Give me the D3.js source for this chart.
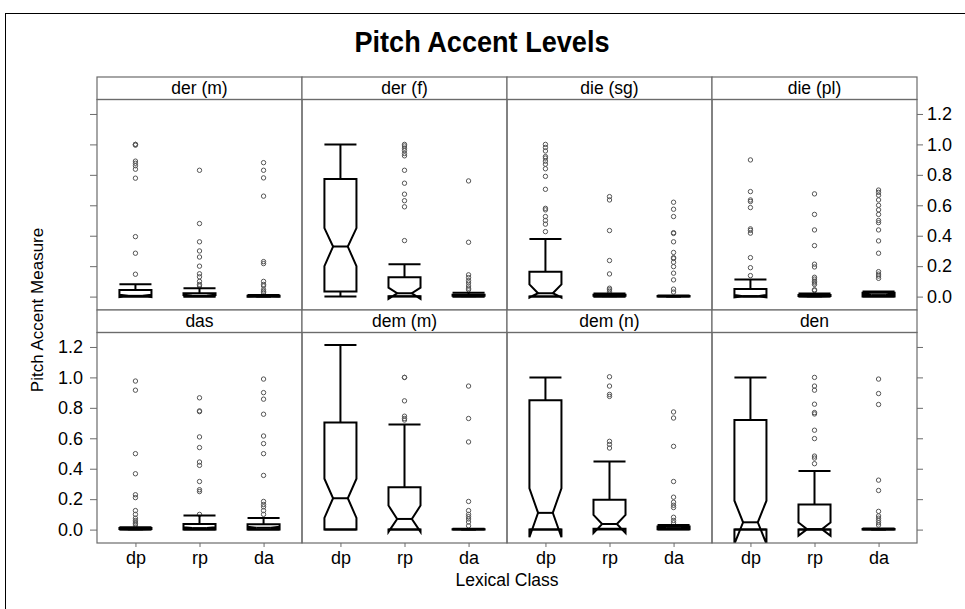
<!DOCTYPE html>
<html><head><meta charset="utf-8">
<script src="https://cdn.jsdelivr.net/npm/d3@7"></script>
<style>
html,body{margin:0;padding:0;background:#fff;}
svg{display:block;font-family:"Liberation Sans",Arial,Helvetica,sans-serif;}
</style></head>
<body>
<svg id="chart" width="965" height="609"></svg>
<script>
// ---------- data ----------
const panelNames = ["der (m)", "der (f)", "die (sg)", "die (pl)", "das", "dem (m)", "dem (n)", "den"];
const classes = ["dp", "rp", "da"];
const yTicks = [0.0, 0.2, 0.4, 0.6, 0.8, 1.0, 1.2];

// per panel: [dp, rp, da]
const lowWhisker = [[0,0,0],[0,0,0],[0,0,0],[0,0,0],[0,0,0],[0,0,0],[0,0,0],[0,0,0]];
const q1 = [[0,0,0],[0.033,0.003,0],[0,0,0],[0,0,0],[0,0,0],[0,0,0],[0,0.005,0.003],[0,0,0]];
const median = [[0.005,0.005,0],[0.329,0.022,0.003],[0.022,0.003,0],[0.003,0.002,0.01],
                [0.002,0.01,0.012],[0.206,0.07,0],[0.11,0.037,0.01],[0.048,0.003,0]];
const q3 = [[0.044,0.022,0.005],[0.773,0.127,0.012],[0.164,0.012,0.004],[0.05,0.01,0.025],
            [0.01,0.037,0.035],[0.703,0.279,0.003],[0.85,0.196,0.02],[0.72,0.165,0.004]];
const highWhisker = [[0.081,0.055,0.01],[1.0,0.213,0.025],[0.379,0.02,0.008],[0.112,0.02,0.033],
                     [0.015,0.092,0.077],[1.213,0.69,0.005],[1.0,0.448,0.03],[1.0,0.385,0.007]];
const notchLo = [[-0.003,0.0,-0.001],[0.2,-0.015,0.0],[-0.006,0.0,0.0],[-0.005,0.0,0.005],
                 [0.0,0.005,0.006],[0.077,-0.015,0.0],[-0.05,-0.023,0.006],[-0.094,-0.04,0.0]];
const notchHi = [[0.013,0.01,0.001],[0.45,0.059,0.006],[0.08,0.006,0.001],[0.011,0.004,0.015],
                 [0.004,0.015,0.018],[0.334,0.158,0.001],[0.272,0.097,0.014],[0.19,0.046,0.001]];
const outliers = [
  [[1.0,1.0,0.995,0.89,0.876,0.86,0.837,0.778,0.394,0.285,0.147],
   [0.83,0.48,0.36,0.30,0.26,0.20,0.15,0.13,0.10,0.08,0.07],
   [0.88,0.83,0.78,0.66,0.23,0.217,0.10,0.08,0.07,0.045,0.035,0.025]],
  [[],
   [1.0,0.99,0.975,0.96,0.94,0.925,0.83,0.745,0.673,0.63,0.59,0.368],
   [0.76,0.357,0.143,0.125,0.105,0.09,0.07,0.055,0.045]],
  [[1.0,0.98,0.957,0.92,0.91,0.89,0.87,0.84,0.79,0.705,0.58,0.57,0.526,0.5,0.476,0.427],
   [0.657,0.635,0.434,0.237,0.149,0.055,0.045,0.035],
   [0.62,0.574,0.526,0.42,0.415,0.36,0.29,0.256,0.25,0.226,0.197,0.154,0.11,0.049,0.03]],
  [[0.898,0.69,0.635,0.625,0.585,0.445,0.435,0.417,0.256,0.19,0.138],
   [0.675,0.54,0.438,0.335,0.213,0.195,0.127,0.115,0.10,0.09,0.08,0.045,0.04],
   [0.70,0.685,0.666,0.635,0.6,0.57,0.54,0.5,0.486,0.438,0.366,0.285,0.164,0.148,0.135,0.12]],
  [[0.976,0.916,0.499,0.367,0.229,0.21,0.125,0.1,0.075,0.06,0.05,0.04,0.03],
   [0.866,0.78,0.775,0.609,0.539,0.444,0.422,0.316,0.262,0.25,0.10],
   [0.989,0.9,0.857,0.758,0.615,0.565,0.499,0.356,0.185,0.165,0.15,0.125,0.1]],
  [[],
   [1.0,1.0,0.846,0.745,0.73,0.72],
   [0.943,0.73,0.576,0.185,0.125,0.1,0.085,0.07,0.05,0.025]],
  [[],
   [1.004,0.943,0.888,0.875,0.58,0.56,0.536],
   [0.773,0.733,0.547,0.316,0.213,0.18,0.16,0.145,0.081,0.06,0.045]],
  [[],
   [1.0,0.943,0.916,0.824,0.769,0.76,0.653,0.598,0.483,0.47,0.433],
   [0.989,0.894,0.822,0.325,0.257,0.12,0.09,0.075,0.06,0.045,0.03]]
];

// ---------- layout ----------
const svg = d3.select("#chart");
const left = 97, colW = 205, nCols = 4;
const stripH = 22.5, panelH = 210.5;
const rowTop = [77, 77 + stripH + panelH];
const gray = "#6b6b6b";
const fontSize = 17.5;
const tickFont = 18;

// outer frame
svg.append("rect").attr("x", 5.5).attr("y", 13.5).attr("width", 1000).attr("height", 700)
  .attr("fill", "none").attr("stroke", "#000").attr("stroke-width", 1);

svg.append("text").attr("x", 482).attr("y", 52).attr("text-anchor", "middle")
  .attr("font-family", '"Liberation Sans Narrow","Liberation Sans",Arial,sans-serif')
  .attr("font-size", 29).attr("font-weight", "bold").attr("fill", "#000")
  .attr("textLength", 255).attr("lengthAdjust", "spacingAndGlyphs")
  .text("Pitch Accent Levels");

const y = d3.scaleLinear().domain([-0.088, 1.295]).range([panelH, 0]);
const x = d3.scalePoint().domain(classes).range([0, colW]).padding(0.6);
const boxW = x.step() * 0.5;
const notchFrac = 0.46;

const defs = svg.append("defs");

panelNames.forEach((name, p) => {
  const row = Math.floor(p / nCols), col = p % nCols;
  const px = left + col * colW;
  const sy = rowTop[row];
  const py = sy + stripH;

  // strip
  svg.append("rect").attr("x", px).attr("y", sy).attr("width", colW).attr("height", stripH)
    .attr("fill", "#fff").attr("stroke", gray).attr("stroke-width", 1.2);
  svg.append("text").attr("x", px + colW / 2).attr("y", sy + stripH / 2 + 6)
    .attr("text-anchor", "middle").attr("font-size", fontSize).attr("fill", "#000").text(name);

  const clipId = "clip" + p;
  defs.append("clipPath").attr("id", clipId).append("rect")
    .attr("x", 0).attr("y", 0).attr("width", colW).attr("height", panelH);

  const g = svg.append("g").attr("transform", `translate(${px},${py})`);
  const content = g.append("g").attr("clip-path", `url(#${clipId})`);

  classes.forEach((c, k) => {
    const cx = x(c);
    const L = cx - boxW / 2, R = cx + boxW / 2;
    const Ln = cx - boxW * notchFrac / 2, Rn = cx + boxW * notchFrac / 2;
    const s = { lw: lowWhisker[p][k], q1: q1[p][k], md: median[p][k], q3: q3[p][k],
                uw: highWhisker[p][k], nl: notchLo[p][k], nh: notchHi[p][k] };
    // outliers
    content.selectAll(null).data(outliers[p][k]).enter().append("circle")
      .attr("cx", cx).attr("cy", d => y(d)).attr("r", 2.2)
      .attr("fill", "none").attr("stroke", "#555").attr("stroke-width", 1);
    const line = (x1, y1, x2, y2) => content.append("line")
      .attr("x1", x1).attr("y1", y1).attr("x2", x2).attr("y2", y2)
      .attr("stroke", "#000").attr("stroke-width", 2);
    // whiskers
    line(cx, y(s.q3), cx, y(s.uw));
    line(L, y(s.uw), R, y(s.uw));
    line(cx, y(s.q1), cx, y(s.lw));
    line(L, y(s.lw), R, y(s.lw));
    // notched box
    const pts = [[L, s.q1], [L, s.nl], [Ln, s.md], [L, s.nh], [L, s.q3],
                 [R, s.q3], [R, s.nh], [Rn, s.md], [R, s.nl], [R, s.q1]]
      .map(d => [d[0], y(d[1])]);
    content.append("polygon").attr("points", pts.map(d => d.join(",")).join(" "))
      .attr("fill", "none").attr("stroke", "#000").attr("stroke-width", 2)
      .attr("stroke-linejoin", "miter");
    line(Ln, y(s.md), Rn, y(s.md));
  });

  // panel border
  g.append("rect").attr("x", 0).attr("y", 0).attr("width", colW).attr("height", panelH)
    .attr("fill", "none").attr("stroke", gray).attr("stroke-width", 1.2);

  // axes
  const tickStyle = sel => {
    sel.select(".domain").remove();
    sel.selectAll(".tick line").attr("stroke", gray).attr("stroke-width", 1);
    sel.selectAll(".tick text").attr("font-size", tickFont).attr("fill", "#000")
      .attr("font-family", '"Liberation Sans",Arial,sans-serif');
  };
  if (col === 0) {
    const ax = g.append("g").call(d3.axisLeft(y).tickValues(yTicks).tickSize(7).tickPadding(7)
      .tickFormat(row === 1 ? d3.format(".1f") : () => ""));
    tickStyle(ax);
  }
  if (col === nCols - 1) {
    const ax = g.append("g").attr("transform", `translate(${colW},0)`)
      .call(d3.axisRight(y).tickValues(yTicks).tickSize(6).tickPadding(4)
      .tickFormat(row === 0 ? d3.format(".1f") : () => ""));
    tickStyle(ax);
  }
  if (row === 1) {
    const ax = g.append("g").attr("transform", `translate(0,${panelH})`)
      .call(d3.axisBottom(x).tickSize(4).tickPadding(4));
    tickStyle(ax);
  }
});

// axis titles
svg.append("text").attr("x", left + nCols * colW / 2).attr("y", 586)
  .attr("text-anchor", "middle").attr("font-size", fontSize).attr("fill", "#000")
  .text("Lexical Class");
svg.append("text").attr("transform", `translate(43,${(rowTop[0] + rowTop[1] + stripH + panelH) / 2}) rotate(-90)`)
  .attr("text-anchor", "middle").attr("font-size", 17).attr("fill", "#000")
  .text("Pitch Accent Measure");
</script>
</body></html>
